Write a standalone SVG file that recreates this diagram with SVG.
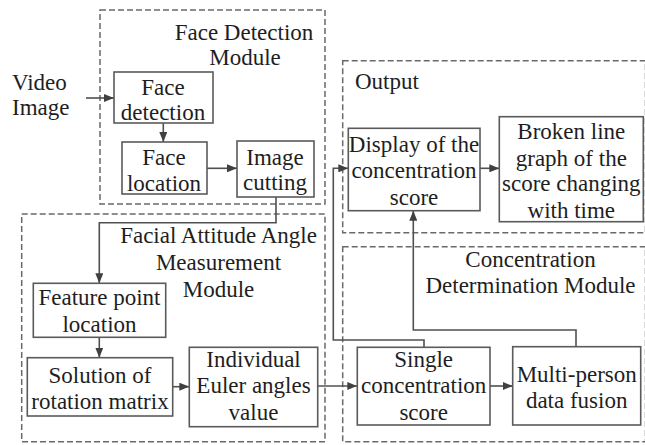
<svg xmlns="http://www.w3.org/2000/svg" width="645" height="445" viewBox="0 0 645 445">
  <style>
    .module { fill: none; stroke: #6a6a6a; stroke-width: 1.5; stroke-dasharray: 6 3; }
    .box { fill: #ffffff; stroke: #5a5a5a; stroke-width: 1.6; }
    .wire { fill: none; stroke: #505050; stroke-width: 1.6; }
    text { font-family: Liberation Serif, Times New Roman, Times, serif; font-size: 23px; fill: #1e1e1e; }
    .c { text-anchor: middle; }
  </style>
  <defs>
    <marker id="arrow" viewBox="0 0 10 8" refX="10" refY="4" markerWidth="10" markerHeight="8" markerUnits="userSpaceOnUse" orient="auto">
      <path d="M0,0 L10,4 L0,8 z" fill="#404040"/>
    </marker>
  </defs>

  <rect width="645" height="445" fill="#ffffff"/>

  <!-- module frames -->
  <g id="face-detection-module">
    <rect class="module" x="100" y="10" width="225" height="194"/>
    <text class="c" x="244" y="40">Face Detection</text>
    <text class="c" x="245" y="65">Module</text>
  </g>
  <g id="facial-attitude-module">
    <rect class="module" x="21.7" y="214" width="303.3" height="227.7"/>
    <text class="c" x="218.5" y="242.7">Facial Attitude Angle</text>
    <text class="c" x="218.5" y="270">Measurement</text>
    <text class="c" x="218.5" y="296.7">Module</text>
  </g>
  <g id="output-module">
    <rect class="module" x="342.7" y="60.7" width="302.8" height="172"/>
    <text x="355" y="89">Output</text>
  </g>
  <g id="concentration-module">
    <rect class="module" x="342.7" y="246.7" width="302.8" height="195"/>
    <text class="c" x="530.5" y="267.3">Concentration</text>
    <text class="c" x="530.5" y="293.3">Determination Module</text>
  </g>

  <!-- input label -->
  <g id="video-image">
    <text x="12" y="90">Video</text>
    <text x="12" y="114.5">Image</text>
  </g>

  <!-- connectors -->
  <g id="connectors">
    <path class="wire" d="M86,98 H114" marker-end="url(#arrow)"/>
    <path class="wire" d="M163.3,123 V142" marker-end="url(#arrow)"/>
    <path class="wire" d="M207,168.3 H237" marker-end="url(#arrow)"/>
    <path class="wire" d="M276,197 V222.7 H99.3 V283.3" marker-end="url(#arrow)"/>
    <path class="wire" d="M99.3,337.3 V357.7" marker-end="url(#arrow)"/>
    <path class="wire" d="M172.7,386.7 H189.3" marker-end="url(#arrow)"/>
    <path class="wire" d="M317.7,386 H357.3" marker-end="url(#arrow)"/>
    <path class="wire" d="M490,386 H512.7" marker-end="url(#arrow)"/>
    <path class="wire" d="M424,347.3 V340 H333.3 V168.3 H348.3" marker-end="url(#arrow)"/>
    <path class="wire" d="M576,346.7 V330 H413.3 V210.7" marker-end="url(#arrow)"/>
    <path class="wire" d="M480,168.3 H499.3" marker-end="url(#arrow)"/>
  </g>

  <!-- nodes -->
  <g id="face-detection">
    <rect class="box" x="114" y="72" width="99" height="51"/>
    <text class="c" x="163" y="95">Face</text>
    <text class="c" x="163" y="120">detection</text>
  </g>
  <g id="face-location">
    <rect class="box" x="122" y="142" width="85" height="52"/>
    <text class="c" x="164" y="165">Face</text>
    <text class="c" x="164" y="191">location</text>
  </g>
  <g id="image-cutting">
    <rect class="box" x="237" y="141" width="77" height="56"/>
    <text class="c" x="275" y="165">Image</text>
    <text class="c" x="275" y="190">cutting</text>
  </g>
  <g id="feature-point-location">
    <rect class="box" x="33.3" y="283.3" width="132.4" height="54"/>
    <text class="c" x="99.5" y="305">Feature point</text>
    <text class="c" x="99.5" y="331.5">location</text>
  </g>
  <g id="rotation-matrix">
    <rect class="box" x="27.3" y="357.7" width="145.4" height="58.3"/>
    <text class="c" x="100" y="382.7">Solution of</text>
    <text class="c" x="100" y="409.3">rotation matrix</text>
  </g>
  <g id="euler-angles">
    <rect class="box" x="189.3" y="347.3" width="128.4" height="79.4"/>
    <text class="c" x="253.5" y="366.7">Individual</text>
    <text class="c" x="253.5" y="393.3">Euler angles</text>
    <text class="c" x="253.5" y="420">value</text>
  </g>
  <g id="single-score">
    <rect class="box" x="357.3" y="347.3" width="132.7" height="77.7"/>
    <text class="c" x="423.7" y="366.7">Single</text>
    <text class="c" x="423.7" y="393.3">concentration</text>
    <text class="c" x="423.7" y="420">score</text>
  </g>
  <g id="data-fusion">
    <rect class="box" x="512.7" y="346.7" width="128" height="78.3"/>
    <text class="c" x="576.7" y="381.7">Multi-person</text>
    <text class="c" x="576.7" y="408.3">data fusion</text>
  </g>
  <g id="score-display">
    <rect class="box" x="348.3" y="128.3" width="131.7" height="82.4"/>
    <text class="c" x="414" y="151.7">Display of the</text>
    <text class="c" x="414" y="178.3">concentration</text>
    <text class="c" x="414" y="205">score</text>
  </g>
  <g id="score-graph">
    <rect class="box" x="499.3" y="116.7" width="144" height="105"/>
    <text class="c" x="571.3" y="139">Broken line</text>
    <text class="c" x="571.3" y="165.5">graph of the</text>
    <text class="c" x="571.3" y="191">score changing</text>
    <text class="c" x="571.3" y="218">with time</text>
  </g>
</svg>
